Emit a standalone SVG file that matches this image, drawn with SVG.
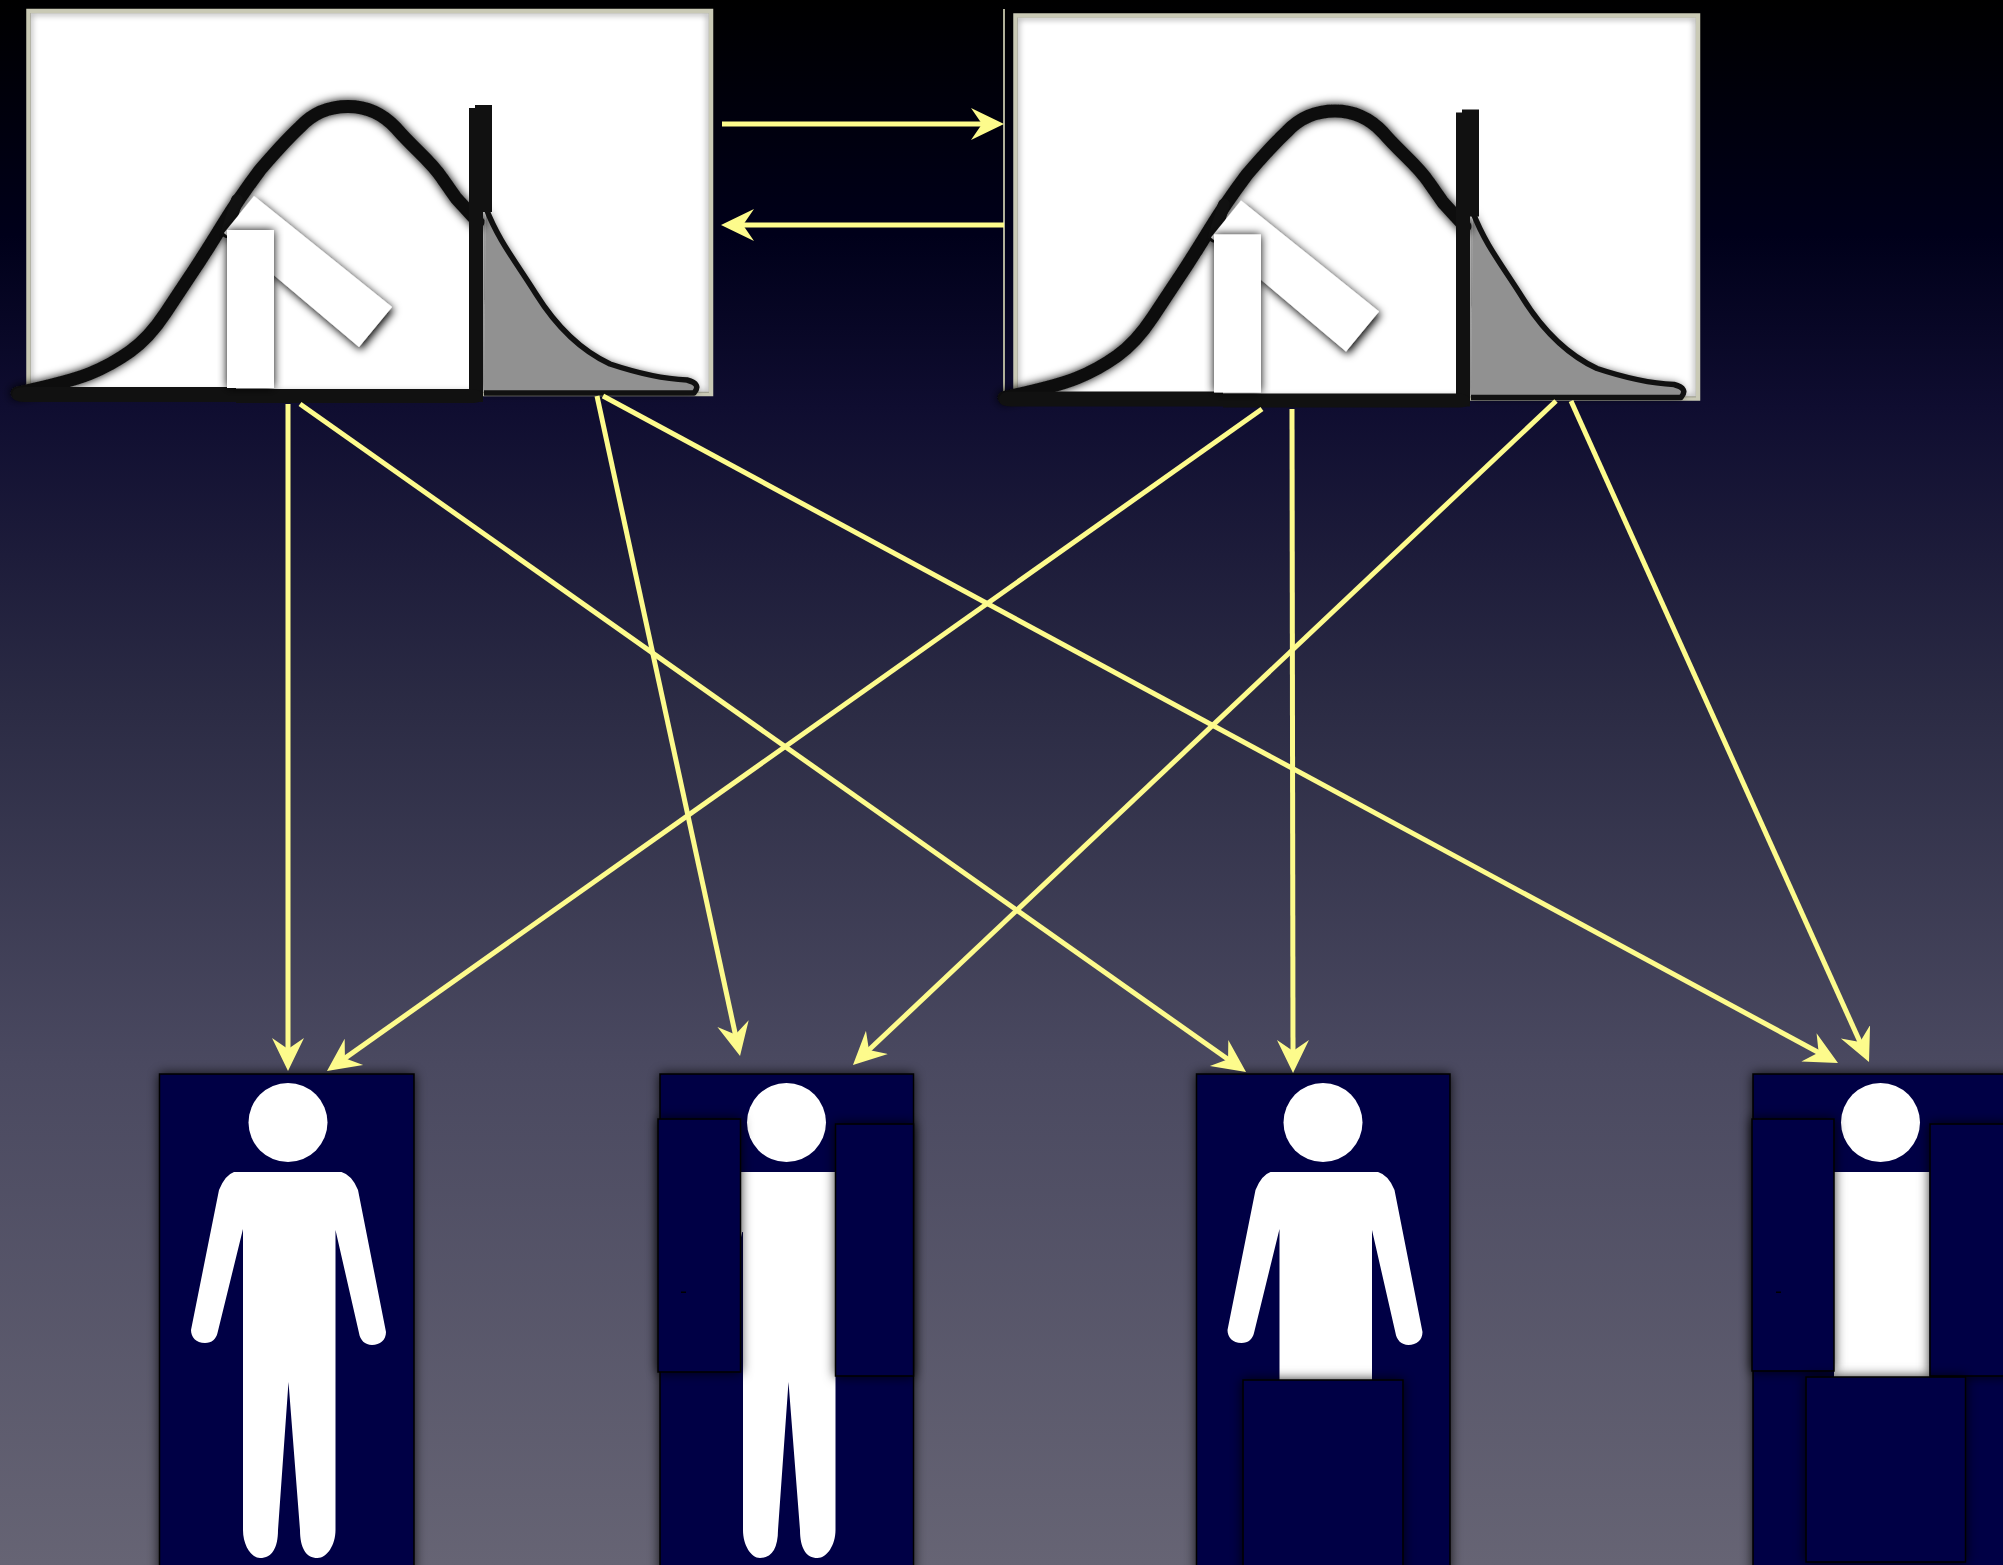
<svg xmlns="http://www.w3.org/2000/svg" width="2003" height="1565" viewBox="0 0 2003 1565">
<style>
.conn{stroke:#fdfb8c;stroke-width:5;fill:none;marker-end:url(#ah)}
.box{fill:#000645;stroke:#000;stroke-width:1.5;filter:url(#sh)}
.wh{fill:#fff}
.curve{fill:none;stroke:#111;stroke-linejoin:round;stroke-linecap:round}
</style>
<defs>
<linearGradient id="bg" x1="0" y1="0" x2="0" y2="1">
<stop offset="0" stop-color="#000"/><stop offset=".15" stop-color="#00001a"/><stop offset=".26" stop-color="#0f0d30"/><stop offset=".45" stop-color="#2b2b44"/><stop offset=".68" stop-color="#4a4960"/><stop offset="1" stop-color="#666474"/>
</linearGradient>
<filter id="sh" x="-20%" y="-20%" width="140%" height="140%"><feDropShadow dx="0" dy="0" stdDeviation="6" flood-color="#000" flood-opacity=".8"/></filter>
<filter id="sg" x="-20%" y="-20%" width="140%" height="140%"><feDropShadow dx="0" dy="0" stdDeviation="5" flood-color="#000" flood-opacity="1"/></filter>
<filter id="sq" x="-20%" y="-20%" width="140%" height="140%"><feDropShadow dx="2" dy="3" stdDeviation="4.500" flood-color="#000" flood-opacity="1"/></filter>
<filter id="bl" x="-5%" y="-5%" width="110%" height="110%"><feGaussianBlur stdDeviation="3"/></filter>
<clipPath id="pc"><rect x="30" y="13" width="679" height="380"/></clipPath>
<marker id="ah" markerUnits="userSpaceOnUse" markerWidth="40" markerHeight="40" refX="13" refY="20" viewBox="0 0 40 40" orient="auto"><path d="M0,4 L33,20 L0,36 L11,20 Z" fill="#fdfb8c"/></marker>
<path id="person" d="M234,1172 H341.500 Q352,1175 358,1190 L386,1332 C386,1340 380,1345 372,1345 C365,1345 360,1340 359,1333 L335.500,1230 V1530 C335.500,1545 327,1558 317.500,1558 C306,1558 300,1548 300,1530 L288.500,1382 L278,1530 C278,1548 272,1558 260,1558 C251,1558 243,1545 243,1530 V1229 L217.500,1333 C216,1339 212,1343 205,1343 C196,1343 191,1337 191,1330 L219,1190 Q225,1175 234,1172 Z"/>
<g id="dist">
<rect x="28.500" y="11" width="682.500" height="383" fill="#fff" stroke="#c9c9b5" stroke-width="4.500"/>
<g clip-path="url(#pc)"><rect x="30" y="13" width="679" height="380" fill="none" stroke="#000" stroke-width="3" opacity=".45" filter="url(#bl)"/></g>
<path d="M486,208 C498,240 516,262 536,294 C556,326 580,350 610,364 C640,374 665,379 687,380 Q700,385 694,392 H484 Z" fill="#919191" filter="url(#sg)"/>
<path d="M486,208 C498,240 516,262 536,294 C556,326 580,350 610,364 C640,374 665,379 687,380 Q702,384 694,393 H484" fill="none" stroke="#111" stroke-width="5.500" stroke-linejoin="round"/>
<path class="curve" stroke-width="13" filter="url(#sg)" d="M17,393 Q69,382 90,373.500 Q111,365 130,351.500 Q149,338 165.500,313 Q182,288 194,270 Q206,252 222.500,225 Q239,198 260,170 Q284,142 300,127 C312,114 328,106.500 348,106.500 C367,106.500 383,114 396,128 C415,150 430,160 442,178 L456,198 L478,222"/>
<path class="curve" stroke-width="12" d="M237,200 L227,232"/>
<path d="M475,105 H492 V212 H483 V402 H469 V108 H475 Z" fill="#111"/>
<path d="M12,395 Q12,387 24,387 H236 V389 H470 V389 Q483,389 483,397 Q483,403 470,403 H236 V402 H24 Q12,402 12,395 Z" fill="#111"/>
<path d="M254,196 L392,307 L359,347 L224,233 Z" fill="#fff" filter="url(#sq)"/>
<rect x="227" y="230" width="47" height="158" fill="#fff" filter="url(#sg)"/>
</g>
</defs>
<rect width="2003" height="1565" fill="url(#bg)"/>
<g id="panel-a"><use href="#dist"/></g>
<g id="panel-b"><line x1="1004" y1="9" x2="1004" y2="392" stroke="#b0b09a" stroke-width="2"/><use href="#dist" x="987" y="4.500"/></g>
<g id="person-1"><rect class="box" x="159.500" y="1074" width="254.500" height="500"/><circle class="wh" cx="288" cy="1122.500" r="39.500"/><use href="#person" fill="#fff"/></g>
<g id="person-2"><rect class="box" x="660" y="1074" width="253.500" height="500"/><circle class="wh" cx="786.500" cy="1122.500" r="39.500"/><use href="#person" fill="#fff" x="500"/><rect class="wh" x="741" y="1172" width="94" height="60"/><rect class="box" x="658" y="1119" width="82.500" height="253"/><rect class="box" x="835.500" y="1124" width="78" height="252"/><rect x="681" y="1291.500" width="5" height="1.500" fill="#000"/></g>
<g id="person-3"><rect class="box" x="1196.500" y="1074" width="253.500" height="500"/><circle class="wh" cx="1323" cy="1122.500" r="39.500"/><use href="#person" fill="#fff" x="1036.500"/><rect class="box" x="1243" y="1380" width="160" height="200"/></g>
<g id="person-4"><rect class="box" x="1753" y="1074" width="260" height="500"/><circle class="wh" cx="1880.500" cy="1122.500" r="39.500"/><rect class="wh" x="1834" y="1172" width="95.500" height="210"/><rect class="box" x="1752" y="1119" width="82" height="252"/><rect class="box" x="1930" y="1124" width="80" height="252"/><rect class="box" x="1806" y="1377" width="159.500" height="185"/><rect x="1776" y="1291.500" width="5" height="1.500" fill="#000"/></g>
<g id="connectors">
<line class="conn" x1="722" y1="124" x2="984" y2="124"/>
<line class="conn" x1="1004" y1="225" x2="741" y2="225"/>
<line class="conn" x1="288" y1="404" x2="288" y2="1051"/>
<line class="conn" x1="300" y1="404" x2="1229.700" y2="1060.500"/>
<line class="conn" x1="597" y1="396" x2="735.800" y2="1036.400"/>
<line class="conn" x1="603" y1="396" x2="1820.400" y2="1053.500"/>
<line class="conn" x1="1262" y1="409" x2="343.300" y2="1059.400"/>
<line class="conn" x1="1292" y1="409" x2="1293" y2="1053"/>
<line class="conn" x1="1556" y1="401" x2="867.500" y2="1051.300"/>
<line class="conn" x1="1571" y1="401" x2="1860.800" y2="1043.800"/>
</g>
</svg>
